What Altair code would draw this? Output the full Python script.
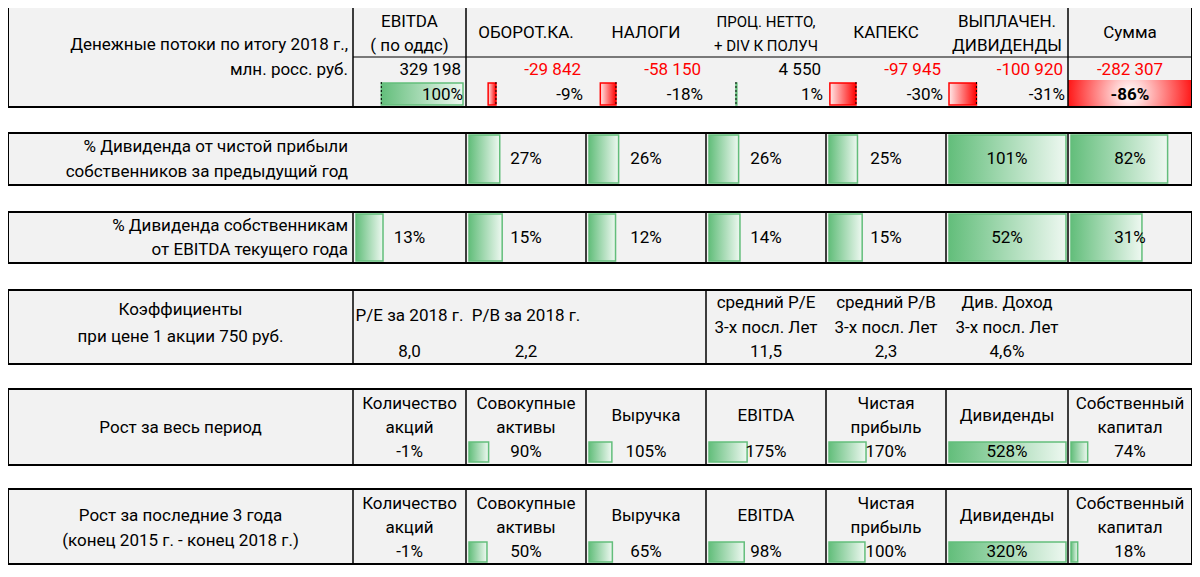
import altair as alt
import pandas as pd

# ---------------- data ----------------
cf_title = ["Денежные потоки по итогу 2018 г.,", "млн. росс. руб."]
cf_headers = [["EBITDA", "( по оддс)"], ["ОБОРОТ.КА."], ["НАЛОГИ"],
              ["ПРОЦ. НЕТТО,", "+ DIV К ПОЛУЧ"], ["КАПЕКС"],
              ["ВЫПЛАЧЕН.", "ДИВИДЕНДЫ"], ["Сумма"]]
cf_values = [329198, -29842, -58150, 4550, -97945, -100920, -282307]
cf_pct = [100, -9, -18, 1, -30, -31, -86]

div_np_title = ["% Дивиденда от чистой прибыли", "собственников за предыдущий год"]
div_np_pct = [27, 26, 26, 25, 101, 82]          # columns 2..7
div_eb_title = ["% Дивиденда собственникам", "от EBITDA текущего года"]
div_eb_pct = [13, 15, 12, 14, 15, 52, 31]        # columns 1..7

ratio_title = ["Коэффициенты", "при цене 1 акции 750 руб."]
ratio_headers = [["P/E за 2018 г."], ["P/B за 2018 г."],
                 ["средний P/E", "3-х посл. Лет"], ["средний P/B", "3-х посл. Лет"],
                 ["Див. Доход", "3-х посл. Лет"]]
ratio_values = [8.0, 2.2, 11.5, 2.3, 4.6]
ratio_is_pct = [False, False, False, False, True]
ratio_cols = [1, 2, 4, 5, 6]

growth_headers = [["Количество", "акций"], ["Совокупные", "активы"], ["Выручка"],
                  ["EBITDA"], ["Чистая", "прибыль"], ["Дивиденды"],
                  ["Собственный", "капитал"]]
growth_all_title = ["Рост за весь период"]
growth_all = [-1, 90, 105, 175, 170, 528, 74]
growth_3y_title = ["Рост за последние 3 года", "(конец 2015 г. - конец 2018 г.)"]
growth_3y = [-1, 50, 65, 98, 100, 320, 18]

# ---------------- layout (table geometry) ----------------
COL = [8, 353, 466, 586, 706, 826, 946, 1068, 1192]
BLK = {"cf": (7, 107), "np": (133, 185), "eb": (212, 263),
       "ratio": (290, 364), "ga": (389, 465), "g3": (489, 564)}
FONT = "Roboto"
FS = 17
GREEN = "#63BE7B"
RED = "#FF0000"
CELL = "#F2F2F2"


def cx(i):
    return (COL[i] + COL[i + 1]) / 2


texts, bars, lines, axes, blocks, fills = [], [], [], [], [], []


def T(x, y, s, align="center", color="black", size=FS, bold=False):
    texts.append(dict(x=x, y=y, text=s, halign=align, color=color, size=size, isbold=bold))


def L(x, x2, y, y2, w=1.5):
    lines.append(dict(x=x, x2=x2, y=y, y2=y2, w=w))


def fmt_int(v):
    return f"{v:,}".replace(",", " ")


def fmt_pct(v):
    return f"{v}%"


def fmt_dec(v, pct):
    s = f"{v:.1f}".replace(".", ",")
    return s + ("%" if pct else "")


for k, (t, b) in BLK.items():
    blocks.append(dict(x=COL[0], x2=COL[-1], y=t, y2=b))

# ---- block 1: cash flows ----
t, b = BLK["cf"]
T(COL[1] - 5, 45, cf_title[0], "right")
T(COL[1] - 5, 70, cf_title[1], "right")
for xv in (COL[1], COL[2], COL[7]):
    L(xv, xv, t, b)
L(COL[1], COL[8], 57, 57, 1.2)
for i, h in enumerate(cf_headers):
    c = i + 1
    size = 15 if i == 3 else FS
    ys = [22, 46] if len(h) == 2 else [33]
    for yy, s in zip(ys, h):
        T(cx(c), yy, s, size=size)
for i, v in enumerate(cf_values):
    c = i + 1
    col = RED if v < 0 else "black"
    if c == 7:
        T(cx(c), 70, fmt_int(v), color=col)
    else:
        T(COL[c + 1] - 5, 70, fmt_int(v), "right", color=col)
db = cf_pct[:6]
lo, hi = min(min(db), 0), max(max(db), 0)
span = hi - lo
for i, v in enumerate(db):
    c = i + 1
    left, right = COL[c] + 3, COL[c + 1] - 3
    unit = (right - left) / span
    axis = left + (-lo) * unit
    end = axis + v * unit
    bars.append(dict(x=min(axis, end), x2=max(axis, end), y=83, y2=105,
                     kind="pos" if v >= 0 else "neg"))
    axes.append(dict(x=axis, y=82, y2=106))
    T(COL[c + 1] - 3, 95, fmt_pct(v), "right")
fills.append(dict(x=COL[7], x2=COL[8], y=80, y2=b))
T(cx(7), 95, fmt_pct(cf_pct[6]), bold=True)


def bar_row(values, first_col, y, y2):
    m = max(values)
    for i, v in enumerate(values):
        c = first_col + i
        w = COL[c + 1] - COL[c] - 5
        if v > 0:
            bars.append(dict(x=COL[c] + 3, x2=COL[c] + 3 + w * v / m, y=y, y2=y2, kind="pos"))


# ---- block 2 ----
t, b = BLK["np"]
T(COL[1] - 5, t + 14, div_np_title[0], "right")
T(COL[1] - 5, t + 39, div_np_title[1], "right")
for c in range(2, 8):
    L(COL[c], COL[c], t, b)
bar_row(div_np_pct, 2, t + 2, b - 2)
for i, v in enumerate(div_np_pct):
    T(cx(i + 2), (t + b) / 2, fmt_pct(v))

# ---- block 3 ----
t, b = BLK["eb"]
T(COL[1] - 5, t + 14, div_eb_title[0], "right")
T(COL[1] - 5, t + 38, div_eb_title[1], "right")
for c in range(1, 8):
    L(COL[c], COL[c], t, b)
bar_row(div_eb_pct, 1, t + 2, b - 2)
for i, v in enumerate(div_eb_pct):
    T(cx(i + 1), (t + b) / 2, fmt_pct(v))

# ---- block 4: ratios ----
t, b = BLK["ratio"]
T(cx(0), t + 20, ratio_title[0])
T(cx(0), t + 47, ratio_title[1])
L(COL[1], COL[1], t, b)
L(COL[4], COL[4], t, b)
for h, v, p, c in zip(ratio_headers, ratio_values, ratio_is_pct, ratio_cols):
    if len(h) == 1:
        T(cx(c), t + 26, h[0])
    else:
        T(cx(c), t + 13, h[0])
        T(cx(c), t + 38, h[1])
    T(cx(c), t + 62, fmt_dec(v, p))


# ---- blocks 5, 6: growth ----
def growth_block(key, title, values):
    t, b = BLK[key]
    if len(title) == 1:
        T(cx(0), t + 39, title[0])
    else:
        T(cx(0), t + 27, title[0])
        T(cx(0), t + 52, title[1])
    for c in range(1, 8):
        L(COL[c], COL[c], t, b)
    bar_row(values, 1, t + 53, t + 73)
    for i, (h, v) in enumerate(zip(growth_headers, values)):
        c = i + 1
        if len(h) == 1:
            T(cx(c), t + 27, h[0])
        else:
            T(cx(c), t + 15, h[0])
            T(cx(c), t + 39, h[1])
        T(cx(c), t + 63, fmt_pct(v))


growth_block("ga", growth_all_title, growth_all)
growth_block("g3", growth_3y_title, growth_3y)

# ---------------- chart ----------------
XS = alt.Scale(domain=[8, 1192], nice=False, zero=False)
YS = alt.Scale(domain=[8, 569], nice=False, zero=False, reverse=True)


def X(f="x"):
    return alt.X(f"{f}:Q", scale=XS, axis=None)


def Y(f="y"):
    return alt.Y(f"{f}:Q", scale=YS, axis=None)


df_blocks = pd.DataFrame(blocks)
df_lines = pd.DataFrame(lines)
df_bars = pd.DataFrame(bars)
df_axes = pd.DataFrame(axes)
df_fill = pd.DataFrame(fills)
df_text = pd.DataFrame(texts)

bg = alt.Chart(df_blocks).mark_rect(fill=CELL, stroke="black", strokeWidth=2).encode(
    x=X(), x2="x2", y=Y(), y2="y2")

green_grad = {"gradient": "linear", "x1": 0, "y1": 0, "x2": 1, "y2": 0,
              "stops": [{"offset": 0, "color": GREEN}, {"offset": 1, "color": "#EEF8F1"}]}
red_grad = {"gradient": "linear", "x1": 0, "y1": 0, "x2": 1, "y2": 0,
            "stops": [{"offset": 0, "color": "#FFE8E8"}, {"offset": 1, "color": RED}]}
sum_grad = {"gradient": "radial", "x1": 0.5, "y1": 0.5, "r1": 0, "x2": 0.5, "y2": 0.5, "r2": 0.55,
            "stops": [{"offset": 0, "color": "#FFFFFF"}, {"offset": 0.2, "color": "#FFD5D5"},
                      {"offset": 1, "color": RED}]}

sum_fill = alt.Chart(df_fill).mark_rect(fill=sum_grad).encode(
    x=X(), x2="x2", y=Y(), y2="y2")

pos_bars = alt.Chart(df_bars[df_bars["kind"] == "pos"]).mark_rect(
    fill=green_grad, stroke=GREEN, strokeWidth=1.5).encode(x=X(), x2="x2", y=Y(), y2="y2")
neg_bars = alt.Chart(df_bars[df_bars["kind"] == "neg"]).mark_rect(
    fill=red_grad, stroke=RED, strokeWidth=1.5).encode(x=X(), x2="x2", y=Y(), y2="y2")

axis_rules = alt.Chart(df_axes).mark_rule(color="black", strokeDash=[2, 2], strokeWidth=1).encode(
    x=X(), y=Y(), y2="y2")

grid = alt.Chart(df_lines).mark_rule(color="black").encode(
    x=X(), x2="x2", y=Y(), y2="y2", strokeWidth=alt.StrokeWidth("w:Q", scale=None))

frame = alt.Chart(df_blocks).mark_rect(fill=None, stroke="black", strokeWidth=2).encode(
    x=X(), x2="x2", y=Y(), y2="y2")

text_layers = []
for align in ["left", "center", "right"]:
    for bold in [False, True]:
        sub = df_text[(df_text["halign"] == align) & (df_text["isbold"] == bold)]
        if len(sub) == 0:
            continue
        text_layers.append(
            alt.Chart(sub).mark_text(align=align, baseline="middle", font=FONT,
                                     fontWeight="bold" if bold else "normal").encode(
                x=X(), y=Y(), text="text:N",
                color=alt.Color("color:N", scale=None),
                size=alt.Size("size:Q", scale=None)))

chart = alt.layer(bg, sum_fill, pos_bars, neg_bars, axis_rules, grid, frame, *text_layers).properties(
    width=1184, height=561, padding=0, autosize="none", background="white"
).configure_view(stroke=None)

chart.save("out.html", embed_options={"renderer": "svg", "actions": False})
